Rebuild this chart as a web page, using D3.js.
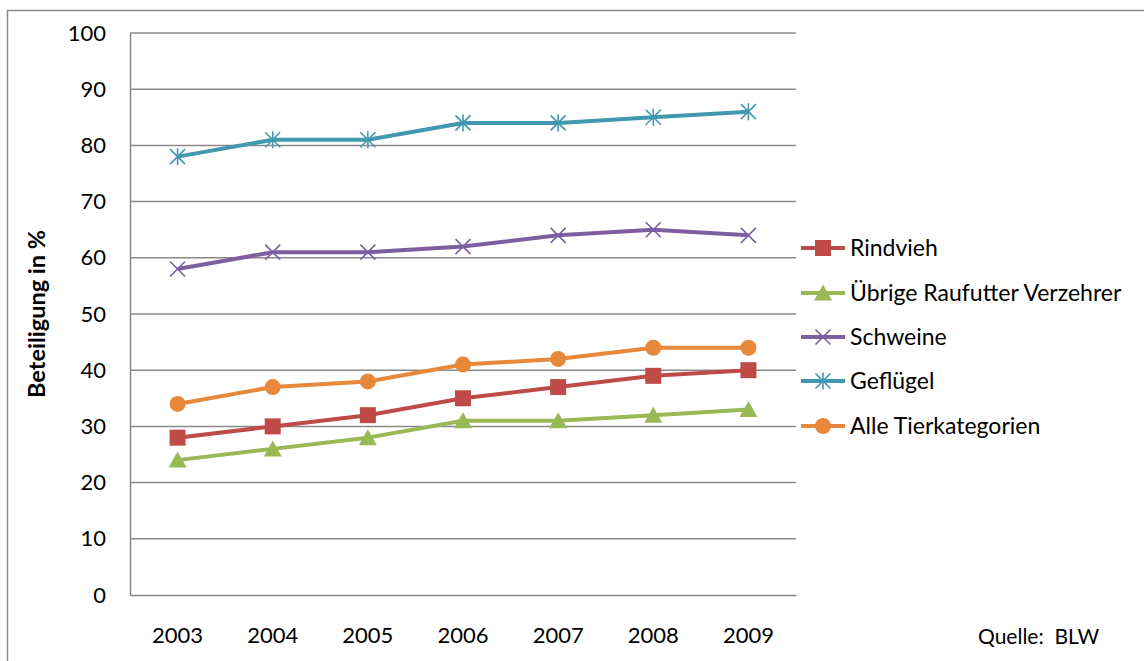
<!DOCTYPE html>
<html>
<head>
<meta charset="utf-8">
<script src="https://cdn.jsdelivr.net/npm/d3@7"></script>
<style>
  html, body { margin: 0; padding: 0; background: #fff; }
  svg { display: block; font-family: Lato, "Open Sans", sans-serif; }
</style>
</head>
<body>
<svg id="chart" width="1144" height="661"></svg>
<script>
// Beteiligung an Tierwohlprogrammen nach Tierkategorie, 2003–2009
const years = ["2003", "2004", "2005", "2006", "2007", "2008", "2009"];
const yTicks = [0, 10, 20, 30, 40, 50, 60, 70, 80, 90, 100];

const rindvieh   = [28, 30, 32, 35, 37, 39, 40];
const uebrige    = [24, 26, 28, 31, 31, 32, 33];
const schweine   = [58, 61, 61, 62, 64, 65, 64];
const gefluegel  = [78, 81, 81, 84, 84, 85, 86];
const alle       = [34, 37, 38, 41, 42, 44, 44];

const seriesNames = ["Rindvieh", "Übrige Raufutter Verzehrer", "Schweine", "Geflügel", "Alle Tierkategorien"];
const seriesValues = [rindvieh, uebrige, schweine, gefluegel, alle];
const seriesColors = ["#BE4B48", "#98B954", "#7D5FA0", "#4198AF", "#E8883A"];
const seriesMarkers = ["square", "triangle", "x", "star", "circle"];

const svg = d3.select("#chart");
const margin = { left: 130, right: 348, top: 33, bottom: 66 };
const W = 1144, H = 661;

// Outer frame of the chart area
svg.append("path")
  .attr("d", "M7.5,700 L7.5,10.5 L1150,10.5")
  .attr("fill", "none").attr("stroke", "#8c8c8c").attr("stroke-width", 1.5);

const x = d3.scaleBand().domain(years).range([margin.left, W - margin.right]);
const y = d3.scaleLinear().domain([0, 100]).range([H - margin.bottom, margin.top]);

// Horizontal gridlines
svg.append("g").selectAll("line").data(yTicks.filter(t => t > 0)).join("line")
  .attr("x1", margin.left).attr("x2", W - margin.right)
  .attr("y1", d => y(d)).attr("y2", d => y(d))
  .attr("stroke", "#8a8a8a").attr("stroke-width", 1.5);

// Y axis
const yAxis = svg.append("g").attr("transform", `translate(${margin.left},0)`)
  .call(d3.axisLeft(y).tickValues(yTicks).tickSize(0).tickPadding(24));
yAxis.select(".domain").attr("stroke", "#868686").attr("stroke-width", 1.5);
yAxis.selectAll("text").attr("font-size", 22).attr("fill", "#000")
  .attr("font-family", "Lato, sans-serif");

// X axis
const xAxis = svg.append("g").attr("transform", `translate(0,${y(0)})`)
  .call(d3.axisBottom(x).tickSize(0).tickPadding(32));
xAxis.select(".domain").attr("stroke", "#868686").attr("stroke-width", 1.5);
xAxis.selectAll("text").attr("font-size", 22).attr("fill", "#000")
  .attr("font-family", "Lato, sans-serif");

// Axis title
svg.append("text")
  .attr("transform", `translate(45,${(y(0) + y(100)) / 2}) rotate(-90)`)
  .attr("text-anchor", "middle")
  .attr("font-size", 23.5).attr("font-weight", "bold")
  .text("Beteiligung in %");

function drawMarker(g, type, cx, cy, color) {
  const s = 7.5;
  if (type === "square") {
    g.append("rect").attr("x", cx - 8).attr("y", cy - 8).attr("width", 16).attr("height", 16)
      .attr("fill", color);
  } else if (type === "triangle") {
    g.append("path").attr("d", `M${cx},${cy - 8.5} L${cx + 9},${cy + 7.5} L${cx - 9},${cy + 7.5} Z`)
      .attr("fill", color);
  } else if (type === "circle") {
    g.append("circle").attr("cx", cx).attr("cy", cy).attr("r", 8).attr("fill", color);
  } else if (type === "x") {
    g.append("path").attr("d", `M${cx - s},${cy - s} L${cx + s},${cy + s} M${cx - s},${cy + s} L${cx + s},${cy - s}`)
      .attr("stroke", color).attr("stroke-width", 1.6).attr("fill", "none");
  } else if (type === "star") {
    g.append("path").attr("d", `M${cx - s},${cy - s} L${cx + s},${cy + s} M${cx - s},${cy + s} L${cx + s},${cy - s} M${cx},${cy - s - 1} L${cx},${cy + s + 1}`)
      .attr("stroke", color).attr("stroke-width", 1.6).attr("fill", "none");
  }
}

const line = d3.line()
  .x((d, i) => x(years[i]) + x.bandwidth() / 2)
  .y(d => y(d));

seriesValues.forEach((vals, k) => {
  const g = svg.append("g");
  g.append("path").datum(vals).attr("d", line)
    .attr("fill", "none").attr("stroke", seriesColors[k]).attr("stroke-width", 4)
    .attr("stroke-linejoin", "round");
  vals.forEach((v, i) => {
    drawMarker(g, seriesMarkers[k], x(years[i]) + x.bandwidth() / 2, y(v), seriesColors[k]);
  });
});

// Legend
const legendY = [248, 293, 337, 381, 426];
seriesNames.forEach((name, k) => {
  const g = svg.append("g");
  const ly = legendY[k];
  g.append("line").attr("x1", 801).attr("x2", 845).attr("y1", ly).attr("y2", ly)
    .attr("stroke", seriesColors[k]).attr("stroke-width", 4);
  drawMarker(g, seriesMarkers[k], 823, ly, seriesColors[k]);
  g.append("text").attr("x", 850).attr("y", ly + 8)
    .attr("font-size", 23).attr("fill", "#000").text(name);
});

// Source note
svg.append("text").attr("x", 978).attr("y", 644)
  .attr("font-size", 21).attr("fill", "#000")
  .style("white-space", "pre").text("Quelle:  BLW");
</script>
</body>
</html>
